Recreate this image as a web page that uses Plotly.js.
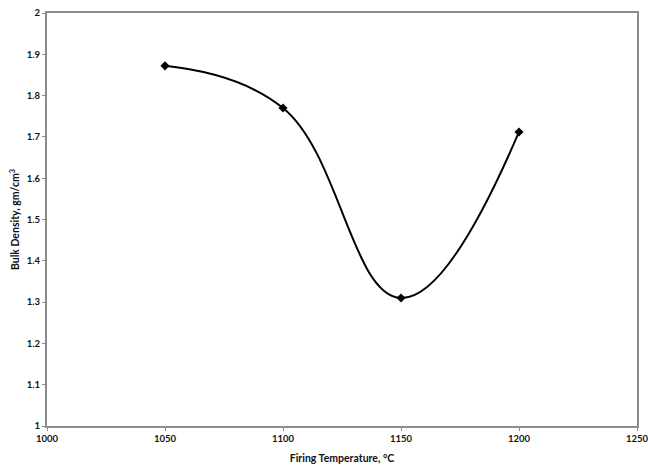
<!DOCTYPE html>
<html>
<head>
<meta charset="utf-8">
<script src="https://cdn.plot.ly/plotly-3.0.1.min.js"></script>
<style>html,body{margin:0;padding:0;background:#fff;}#chart{width:648px;height:473px;}</style>
</head>
<body>
<div id="chart"></div>
<script>
const temperatures = [1050, 1100, 1150, 1200];
const bulkDensity = [1.872, 1.77, 1.31, 1.712];
const xTitle = "Firing Temperature, °C";
const yTitle = "Bulk Density, gm/cm<sup>3</sup>";

const trace = {
  x: temperatures,
  y: bulkDensity,
  mode: "lines+markers",
  type: "scatter",
  line: {shape: "spline", smoothing: 1.2, color: "#000", width: 2},
  marker: {symbol: "diamond", size: 7, color: "#000"},
  hoverinfo: "x+y"
};
const fontFam = "Lato, 'Open Sans', sans-serif";
const layout = {
  width: 648, height: 473,
  margin: {l: 47, r: 11, t: 13, b: 47},
  paper_bgcolor: "#fff", plot_bgcolor: "#fff",
  showlegend: false,
  font: {family: fontFam, color: "#111", size: 9},
  xaxis: {
    range: [1000, 1250], dtick: 50, tick0: 1000,
    showgrid: false, zeroline: false,
    showline: true, linecolor: "#8c8c8c", linewidth: 2, mirror: true,
    ticks: "outside", ticklen: 3, tickcolor: "#8c8c8c", tickwidth: 1,
    ticklabeloverflow: "allow", automargin: false,
    tickfont: {family: fontFam, size: 9.5, color: "#111", weight: "bold"},
    title: {text: xTitle, font: {family: fontFam, size: 10.5, color: "#111", weight: "bold"}, standoff: 11}
  },
  yaxis: {
    range: [1, 2], dtick: 0.1, tick0: 1,
    showgrid: false, zeroline: false,
    showline: true, linecolor: "#8c8c8c", linewidth: 2, mirror: true,
    ticks: "outside", ticklen: 3, tickcolor: "#8c8c8c", tickwidth: 1,
    automargin: false,
    tickfont: {family: fontFam, size: 9.5, color: "#111", weight: "bold"},
    title: {text: yTitle, font: {family: fontFam, size: 10.5, color: "#111", weight: "bold"}, standoff: 5}
  }
};
Plotly.newPlot("chart", [trace], layout, {displayModeBar: false, staticPlot: true});
</script>
</body>
</html>
